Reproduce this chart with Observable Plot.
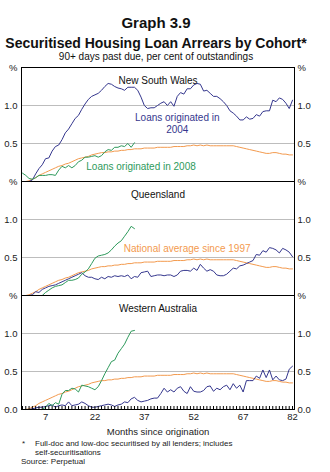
<!DOCTYPE html>
<html><head><meta charset="utf-8">
<script src="https://cdn.jsdelivr.net/npm/d3@7"></script>
<script src="https://cdn.jsdelivr.net/npm/@observablehq/plot@0.6"></script>
<style>
body{margin:0;background:#fff;font-family:"Liberation Sans",Arial,sans-serif;color:#111;}
#wrap{position:relative;width:330px;height:472px;overflow:hidden;background:#fff;}
.t{position:absolute;left:0;width:312px;text-align:center;white-space:nowrap;}
#g{top:15px;font:bold 15px/1 "Liberation Sans",Arial,sans-serif;}
#s{top:36px;font:bold 14px/1 "Liberation Sans",Arial,sans-serif;}
#u{top:52px;font:10px/1 "Liberation Sans",Arial,sans-serif;}
#chart{position:absolute;left:0;top:60px;}
.fn{position:absolute;font:8px/9px "Liberation Sans",Arial,sans-serif;color:#222;white-space:nowrap;}
</style></head><body>
<div id="wrap">
<div class="t" id="g">Graph 3.9</div>
<div class="t" id="s">Securitised Housing Loan Arrears by Cohort*</div>
<div class="t" id="u">90+ days past due, per cent of outstandings</div>
<div id="chart"></div>
<div class="fn" style="left:22px;top:439px;">*</div>
<div class="fn" style="left:35px;top:439px;">Full-doc and low-doc securitised by all lenders; includes<br>self-securitisations</div>
<div class="fn" style="left:21px;top:457px;">Source: Perpetual</div>
</div>
<script>
const states = ["New South Wales", "Queensland", "Western Australia"];
const months = [0,1,2,3,4,5,6,7,8,9,10,11,12,13,14,15,16,17,18,19,20,21,22,23,24,25,26,27,28,29,30,31,32,33,34,35,36,37,38,39,40,41,42,43,44,45,46,47,48,49,50,51,52,53,54,55,56,57,58,59,60,61,62,63,64,65,66,67,68,69,70,71,72,73,74,75,76,77,78,79,80,81,82];
const xTickValues = [7, 22, 37, 52, 67, 82];
const yTickValues = [0, 0.5, 1.0, 1.5];
const yTickLabels = ["0.0", "0.5", "1.0", "%"];

// Loans originated in 2004 (months 0..82)
const nsw2004 = [0,0,0,0.02,0.10,0.17,0.22,0.30,0.31,0.40, 0.46,0.48,0.55,0.64,0.69,0.76,0.83,0.87,0.95,1.02, 1.08,1.12,1.14,1.16,1.20,1.25,1.29,1.28,1.25,1.23, 1.22,1.20,1.24,1.24,1.24,1.20,1.11,1.00,0.96,0.97, 0.97,1.00,1.03,1.05,1.00,1.05,0.99,1.12,1.17,1.15, 1.22,1.22,1.27,1.29,1.28,1.19,1.20,1.16,1.12,1.12, 1.09,1.05,1.00,0.93,0.90,0.86,0.81,0.81,0.85,0.82, 0.83,0.88,0.86,0.92,0.93,0.93,1.07,1.05,1.10,1.08, 1.03,0.96,1.07];
const qld2004 = [0,0,0,0.01,0.05,0.04,0.08,0.10,0.12,0.13, 0.14,0.16,0.18,0.20,0.22,0.24,0.26,0.28,0.30,0.26, 0.24,0.24,0.22,0.21,0.24,0.22,0.25,0.24,0.26,0.25, 0.26,0.25,0.27,0.22,0.25,0.24,0.30,0.31,0.32,0.25, 0.26,0.27,0.27,0.26,0.27,0.27,0.25,0.27,0.32,0.33, 0.33,0.32,0.36,0.33,0.41,0.36,0.32,0.34,0.32,0.27, 0.26,0.26,0.28,0.32,0.36,0.35,0.39,0.40,0.42,0.44, 0.46,0.54,0.53,0.59,0.57,0.63,0.62,0.60,0.56,0.62, 0.60,0.57,0.51];
const wa2004 = [0,0,0,0.01,0.02,0.03,0.03,0.04,0.05,0.06, 0.03,0.05,0.06,0.05,0.10,0.05,0.06,0.07,0.10,0.08, 0.05,0.03,0.03,0.04,0.05,0.06,0.07,0.06,0.04,0.06, 0.07,0.10,0.09,0.14,0.16,0.12,0.10,0.11,0.12,0.14, 0.15,0.15,0.21,0.28,0.23,0.26,0.23,0.28,0.30,0.24, 0.21,0.30,0.24,0.23,0.23,0.25,0.30,0.31,0.24,0.28, 0.26,0.30,0.32,0.26,0.34,0.28,0.32,0.23,0.38,0.38, 0.38,0.44,0.41,0.52,0.42,0.52,0.39,0.44,0.39,0.38, 0.40,0.53,0.57];

// Loans originated in 2008 (months 0..34)
const nsw2008 = [0.11,0.08,0.04,0.03,0.05,0.08,0.08,0.08,0.09,0.09, 0.08,0.15,0.20,0.18,0.21,0.18,0.21,0.26,0.28,0.32, 0.32,0.33,0.34,0.32,0.34,0.39,0.42,0.41,0.45,0.45, 0.47,0.46,0.50,0.45,0.51];
const qld2008 = [null,null,null,null,null,null,0,0.04,0.07,0.10, 0.12,0.13,0.14,0.17,0.20,0.20,0.21,0.23,0.28,0.31, 0.35,0.42,0.49,0.52,0.53,0.54,0.56,0.60,0.65,0.69, 0.72,0.78,0.84,0.91,0.88];
const wa2008 = [null,null,null,null,null,null,0,0.03,0.08,0.05, 0.09,0.07,0.20,0.25,0.25,0.28,0.27,0.23,0.32,0.31, 0.30,0.28,0.26,0.30,0.38,0.47,0.55,0.63,0.65,0.74, 0.80,0.86,0.95,1.03,1.04];

// National average since 1997 (months 0..82), same in every panel
const national = [0,0,0.01,0.03,0.05,0.08,0.10,0.12,0.14,0.16, 0.18,0.20,0.21,0.23,0.24,0.26,0.28,0.30,0.31,0.32, 0.33,0.35,0.36,0.37,0.38,0.38,0.39,0.39,0.40,0.40, 0.41,0.41,0.42,0.42,0.43,0.43,0.43,0.44,0.44,0.44, 0.44,0.45,0.45,0.45,0.45,0.45,0.46,0.46,0.46,0.46, 0.47,0.47,0.48,0.47,0.48,0.47,0.48,0.47,0.47,0.47, 0.47,0.47,0.47,0.47,0.47,0.46,0.45,0.44,0.43,0.42, 0.41,0.40,0.39,0.38,0.37,0.37,0.38,0.38,0.37,0.36, 0.36,0.35,0.35];

// Annotations
const annoText = ["Loans originated in\n2004", "Loans originated in 2008", "National average since 1997"];
const annoState = ["New South Wales", "New South Wales", "Queensland"];
const annoMonth = [47, 36, 50];
const annoValue = [0.77, 0.19, 0.615];

const NAVY = "#35378e", GREEN = "#2e9a5c", ORANGE = "#f39a4e";

const c2004 = [nsw2004, qld2004, wa2004];
const c2008 = [nsw2008, qld2008, wa2008];
const rows04 = [], rows08 = [], rowsNat = [];
states.forEach((s, i) => {
  months.forEach((m, j) => {
    rows04.push({state: s, m, v: c2004[i][j]});
    rowsNat.push({state: s, m, v: national[j]});
    if (j < c2008[i].length) rows08.push({state: s, m, v: c2008[i][j]});
  });
});
const yLabelRows = [];
states.forEach((s, i) => {
  yTickValues.forEach((v, k) => {
    if (v === 0 && i < states.length - 1) return;
    yLabelRows.push({state: s, v, label: yTickLabels[k]});
  });
});
const anno = annoText.map((t, i) => ({text: t, state: annoState[i], m: annoMonth[i], v: annoValue[i]}));

const plot = Plot.plot({
  width: 330, height: 377,
  marginTop: 6, marginLeft: 21, marginRight: 36, marginBottom: 28,
  style: {fontFamily: "'Liberation Sans', Arial, sans-serif", fontSize: "10px", color: "#111", background: "transparent"},
  x: {domain: [-0.3, 82.6]},
  y: {domain: [0, 1.5], axis: null},
  fy: {domain: states, padding: 0, axis: null},
  marks: [
    Plot.ruleY([0.5, 1.0], {stroke: "#bdbdbd", strokeWidth: 1}),
    Plot.line(rowsNat, {x: "m", y: "v", fy: "state", stroke: ORANGE, strokeWidth: 1}),
    Plot.line(rows04, {x: "m", y: "v", fy: "state", stroke: NAVY, strokeWidth: 1}),
    Plot.line(rows08, {x: "m", y: "v", fy: "state", stroke: GREEN, strokeWidth: 1}),
    Plot.frame({stroke: "#000", strokeWidth: 1}),
    Plot.axisX({ticks: months, tickSize: 3, dy: -3, tickFormat: () => "", stroke: "#000", label: null}),
    Plot.axisX({ticks: xTickValues, tickSize: 0, tickPadding: 4, fontSize: 9.5, fill: "#222",
      label: "Months since origination", labelAnchor: "center", labelOffset: 25, labelArrow: "none"}),
    Plot.text(yLabelRows, {fy: "state", y: "v", text: "label", frameAnchor: "left", textAnchor: "end", dx: -4, fontSize: 9.5, fill: "#222"}),
    Plot.text(yLabelRows, {fy: "state", y: "v", text: "label", frameAnchor: "right", textAnchor: "start", dx: 3, fontSize: 9.5, fill: "#222"}),
    Plot.text(states, {fy: d => d, text: d => d, frameAnchor: "top", dy: 9, fontSize: 10, fill: "#111"}),
    Plot.text(anno.filter((d, i) => i === 0), {fy: "state", x: "m", y: "v", text: "text", fill: NAVY, fontSize: 10, lineHeight: 1.2}),
    Plot.text(anno.filter((d, i) => i === 1), {fy: "state", x: "m", y: "v", text: "text", fill: GREEN, fontSize: 10}),
    Plot.text(anno.filter((d, i) => i === 2), {fy: "state", x: "m", y: "v", text: "text", fill: ORANGE, fontSize: 10})
  ]
});
document.getElementById("chart").appendChild(plot);
</script>
</body></html>
